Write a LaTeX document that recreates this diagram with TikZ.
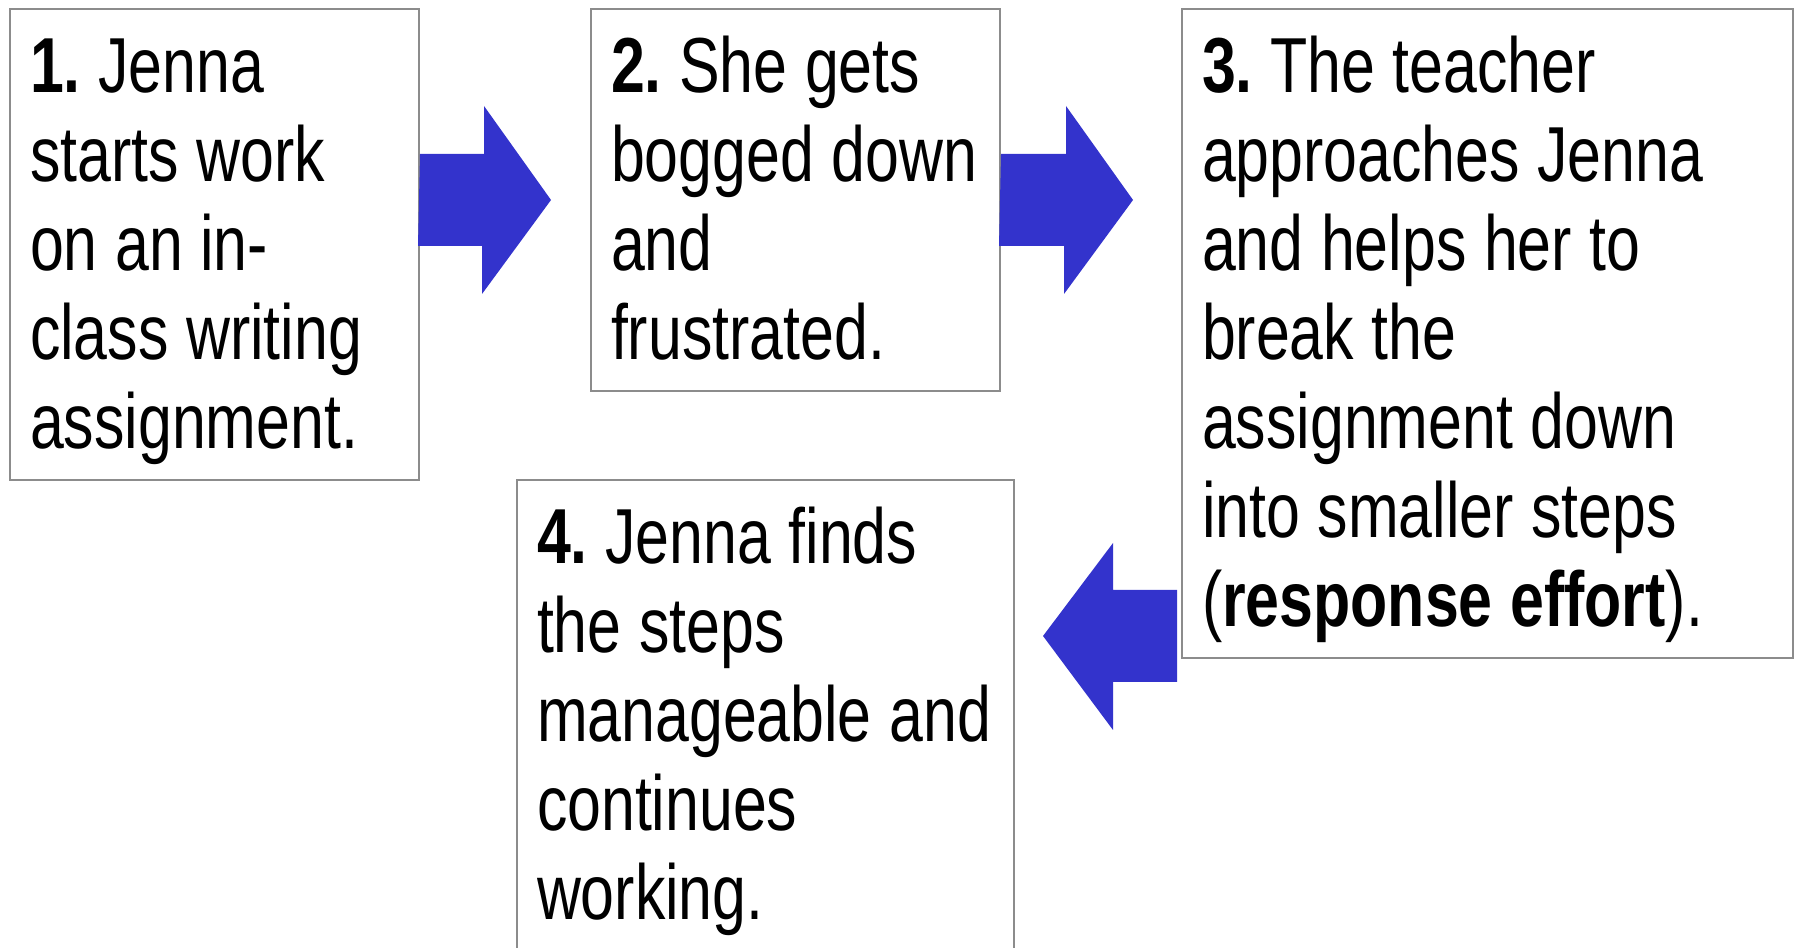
\documentclass[tikz,border=0pt]{standalone}
\usepackage{fontspec}
\setmainfont[FakeStretch=0.78]{Liberation Sans}
\definecolor{arrowblue}{RGB}{51,51,204}
\definecolor{boxgray}{RGB}{140,140,140}
\newcommand\stepfont{\fontsize{19.5}{22.25}\selectfont\frenchspacing}

\begin{document}
\begin{tikzpicture}[x=0.25pt,y=-0.25pt,
		stepbox/.style={draw=boxgray, line width=0.5pt, anchor=north west, align=flush left,
			inner xsep=5pt, inner ysep=0pt, font=\stepfont,
			execute at begin node={\spaceskip=4.4pt\xspaceskip=4.4pt\rule{0pt}{20.9pt}},
			execute at end node={\rule[-7.9pt]{0pt}{7.9pt}}},
		bigarrow/.style={fill=arrowblue}]
		\useasboundingbox (0,0) rectangle (1794,948);
		\node[stepbox, text width=92.25pt] (b1) at (9,8)
			{\textbf{1.} Jenna\\starts~work\\on an in-\\class~writing\\assignment.};
		\node[stepbox, text width=92.25pt] (b2) at (590,8)
			{\textbf{2.} She~gets\\bogged~down\\and\\frustrated.};
		\node[stepbox, text width=142.75pt] (b3) at (1181,8)
			{\textbf{3.} The~teacher\\approaches~Jenna\\and~helps~her~to\\break the\\assignment~down\\into~smaller~steps\\(\textbf{response~effort}).};
		\node[stepbox, text width=114.25pt, execute at end node={\rule[-14pt]{0pt}{14pt}}] (b4) at (516,479)
			{\textbf{4.} Jenna~finds\\the steps\\manageable~and\\continues\\working.};
		\coordinate (t1) at (551,200);
		\coordinate (t2) at (1133,200);
		\coordinate (t3) at (1043,636);
		\fill[bigarrow] (b1.east |- 0,200) ++(0,-46) -- ++(64,0) -- ++(0,-48) -- (t1)
			-- ++(-69,94) -- ++(0,-48) -- ++(-64,0) -- cycle;
		\fill[bigarrow] (b2.east |- 0,200) ++(0,-46) -- ++(65,0) -- ++(0,-48) -- (t2)
			-- ++(-69,94) -- ++(0,-48) -- ++(-65,0) -- cycle;
		\fill[bigarrow] ([xshift=-1pt]b3.west |- 0,636) ++(0,-46) -- ++(-64,0) -- ++(0,-47) -- (t3)
			-- ++(70,94) -- ++(0,-48) -- ++(64,0) -- cycle;
\end{tikzpicture}
\end{document}
